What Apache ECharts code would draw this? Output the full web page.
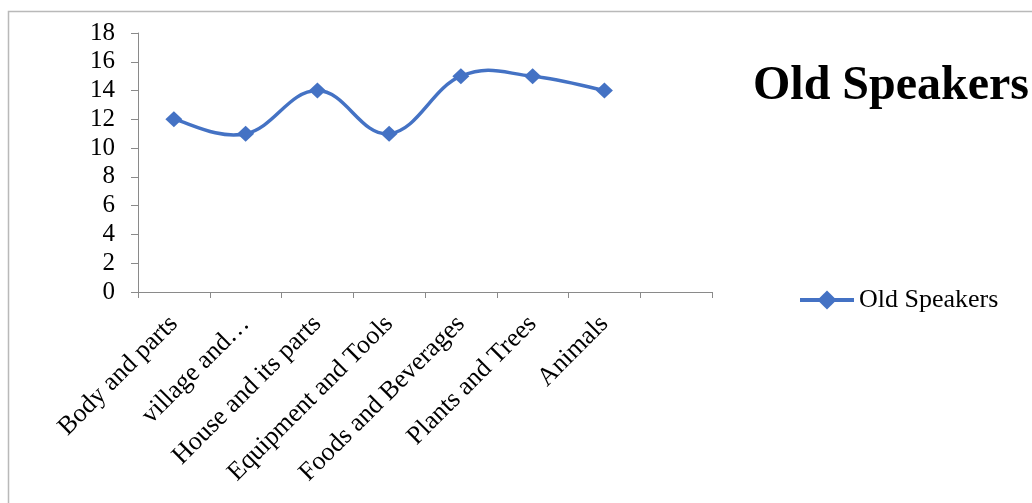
<!DOCTYPE html>
<html>
<head>
<meta charset="utf-8">
<script src="https://cdn.jsdelivr.net/npm/echarts@6/dist/echarts.min.js"></script>
<style>
  html, body { margin: 0; padding: 0; background: #fff; }
  #chart { width: 1032px; height: 503px; }
</style>
</head>
<body>
<div id="chart"></div>
<script>
// Word categories and counts recalled by old speakers
const categories = [
  'Body and parts',
  'village and…',
  'House and its parts',
  'Equipment and Tools',
  'Foods and Beverages',
  'Plants and Trees',
  'Animals',
  ''
];
const oldSpeakers = [12, 11, 14, 11, 15, 15, 14];
const yTicks = { min: 0, max: 18, interval: 2 };

const serif = "'Times New Roman', 'Liberation Serif', serif";
const blue = '#4472C4';
const axisGray = '#8a8a8a';
const tension = 1 / 5;

// One cubic Bezier per pair of neighbouring points, Catmull-Rom style,
// so the curve may rise slightly past equal neighbours like office-chart smoothing.
function renderSegment(params, api) {
  const i = api.value(0);
  const n = oldSpeakers.length;
  const pt = k => {
    const j = Math.max(0, Math.min(n - 1, k));
    return api.coord([j, oldSpeakers[j]]);
  };
  const p0 = pt(i - 1), p1 = pt(i), p2 = pt(i + 1), p3 = pt(i + 2);
  return {
    type: 'bezierCurve',
    shape: {
      x1: p1[0], y1: p1[1],
      cpx1: p1[0] + (p2[0] - p0[0]) * tension,
      cpy1: p1[1] + (p2[1] - p0[1]) * tension,
      cpx2: p2[0] - (p3[0] - p1[0]) * tension,
      cpy2: p2[1] - (p3[1] - p1[1]) * tension,
      x2: p2[0], y2: p2[1]
    },
    style: { stroke: blue, lineWidth: 3.5, fill: null, lineCap: 'round' },
    silent: true
  };
}

const chart = echarts.init(document.getElementById('chart'), null, { renderer: 'canvas' });

chart.setOption({
  backgroundColor: '#fff',
  animation: false,
  graphic: [{
    type: 'rect',
    shape: { x: 8.5, y: 11.5, width: 1200, height: 700 },
    style: { fill: 'none', stroke: '#b9b9b9', lineWidth: 1.5 },
    silent: true
  }],
  title: {
    text: 'Old Speakers',
    left: 753,
    top: 63,
    padding: 0,
    textStyle: { fontFamily: serif, fontSize: 48, fontWeight: 'bold', color: '#000' }
  },
  legend: {
    left: 798,
    top: 287,
    padding: 0,
    itemWidth: 54,
    itemHeight: 24,
    textStyle: { fontFamily: serif, fontSize: 26, color: '#000', padding: [0, 0, 0, 0] },
    data: [{
      name: 'Old Speakers',
      lineStyle: { color: blue, width: 4, opacity: 1 }
    }]
  },
  grid: { left: 138, right: 320, top: 33, bottom: 211, containLabel: false },
  xAxis: {
    type: 'category',
    data: categories,
    boundaryGap: true,
    axisLine: { lineStyle: { color: axisGray, width: 1 } },
    axisTick: { show: true, length: 6, lineStyle: { color: axisGray } },
    axisLabel: {
      interval: 0,
      rotate: 45,
      margin: 28,
      fontFamily: serif,
      fontSize: 26,
      color: '#000'
    },
    splitLine: { show: false }
  },
  yAxis: {
    type: 'value',
    min: yTicks.min,
    max: yTicks.max,
    interval: yTicks.interval,
    axisLine: { show: true, lineStyle: { color: axisGray, width: 1 } },
    axisTick: { show: true, length: 7, lineStyle: { color: axisGray } },
    axisLabel: { margin: 23, fontFamily: serif, fontSize: 25, color: '#000' },
    splitLine: { show: false }
  },
  series: [
    {
      name: 'curve',
      type: 'custom',
      coordinateSystem: 'cartesian2d',
      renderItem: renderSegment,
      data: oldSpeakers.slice(0, -1).map((v, i) => [i, v]),
      z: 1
    },
    {
      name: 'Old Speakers',
      type: 'line',
      data: oldSpeakers,
      symbol: 'diamond',
      symbolSize: [17, 16],
      lineStyle: { color: blue, width: 3.5, opacity: 0 },
      itemStyle: { color: blue },
      z: 3
    }
  ]
});
</script>
</body>
</html>
